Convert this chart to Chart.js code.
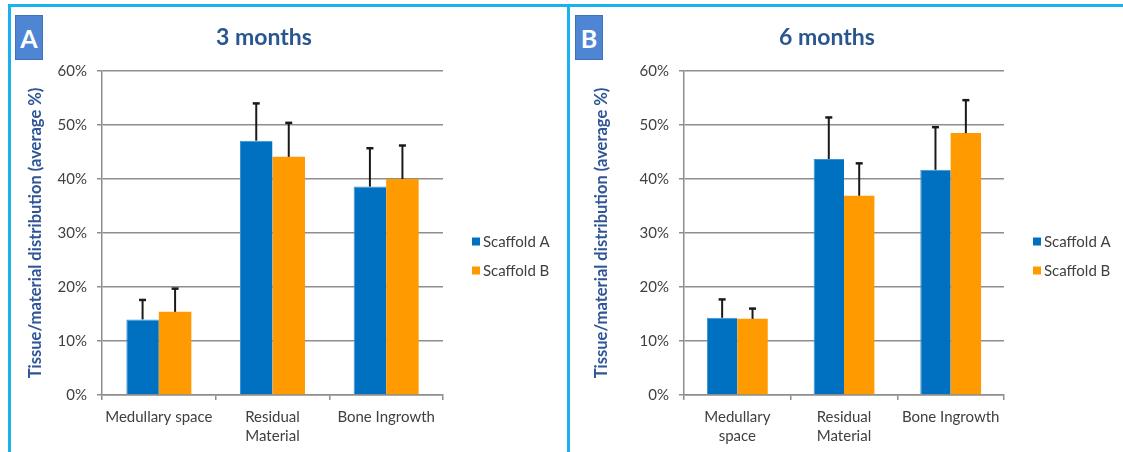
<!DOCTYPE html>
<html>
<head>
<meta charset="utf-8">
<script src="https://cdn.jsdelivr.net/npm/chart.js@4.4.1/dist/chart.umd.min.js"></script>
<style>
    html, body { margin: 0; padding: 0; background: #fff; }
    #wrap { position: relative; width: 1123px; height: 452px; overflow: hidden; font-family: Lato, "Open Sans", sans-serif; }
    canvas { position: absolute; top: 0; }
    .edge { position: absolute; background: #19b2ef; }
    .tag { position: absolute; top: 15px; width: 28px; height: 45px; background: #4f86d3; border: 1px solid #3f72bd; box-sizing: border-box;
           color: #fff; font: bold 25px Lato, sans-serif; text-align: center; line-height: 44px; }
    .title { position: absolute; top: 22px; width: 200px; text-align: center; color: #2a568f; font: bold 23px Lato, sans-serif; }
</style>
</head>
<body>
<div id="wrap">
    <canvas id="chartA" width="567" height="452" style="left:0"></canvas>
    <canvas id="chartB" width="553" height="452" style="left:570px"></canvas>
    <div class="edge" style="left:8px;top:4px;width:3px;height:460px"></div>
    <div class="edge" style="left:8px;top:4px;width:1115px;height:3px"></div>
    <div class="edge" style="left:567px;top:4px;width:3px;height:460px"></div>
    <div class="tag" style="left:15px">A</div>
    <div class="tag" style="left:575px">B</div>
    <div class="title" style="left:164px">3 months</div>
    <div class="title" style="left:727px">6 months</div>
</div>
<script>
"use strict";

// categories (panel B wraps the first label)
var labelsA = ["Medullary space", ["Residual", "Material"], "Bone Ingrowth"];
var labelsB = [["Medullary", "space"], ["Residual", "Material"], "Bone Ingrowth"];
var seriesNames = ["Scaffold A", "Scaffold B"];

// 3 months (average %, upper error)
var month3ScaffoldA = [14.0, 47.1, 38.6];
var month3ScaffoldB = [15.4, 44.1, 40.0];
var month3ErrorA = [3.6, 6.9, 7.1];
var month3ErrorB = [4.3, 6.3, 6.2];

// 6 months
var month6ScaffoldA = [14.3, 43.7, 41.7];
var month6ScaffoldB = [14.1, 36.9, 48.5];
var month6ErrorA = [3.4, 7.7, 7.9];
var month6ErrorB = [1.9, 6.0, 6.1];

var yTicks = [0, 10, 20, 30, 40, 50, 60];

var blue = "#0070c0";
var orange = "#ff9a00";
var gridGray = "#8e8e8e";
var textGray = "#404040";

// only the upper whisker is drawn, like the original figure
var errorBarPlugin = {
    id: "errorBars",
    afterDatasetsDraw: function(chart) {
        var ctx = chart.ctx;
        var yScale = chart.scales.y;
        ctx.save();
        ctx.strokeStyle = "#1a1a1a";
        chart.data.datasets.forEach(function(ds, i) {
            var meta = chart.getDatasetMeta(i);
            meta.data.forEach(function(bar, j) {
                var top = yScale.getPixelForValue(ds.data[j] + ds.errors[j]);
                ctx.lineWidth = 2;
                ctx.beginPath();
                ctx.moveTo(bar.x, bar.y);
                ctx.lineTo(bar.x, top);
                ctx.stroke();
                ctx.lineWidth = 2.5;
                ctx.beginPath();
                ctx.moveTo(bar.x - 3.5, top);
                ctx.lineTo(bar.x + 3.5, top);
                ctx.stroke();
            });
        });
        ctx.restore();
    }
};

// legend sits to the right, a bit below the middle of the plot
var sideLegendPlugin = {
    id: "sideLegend",
    afterDraw: function(chart) {
        var ctx = chart.ctx;
        var area = chart.chartArea;
        ctx.save();
        ctx.font = "15px Lato, sans-serif";
        ctx.textBaseline = "middle";
        chart.data.datasets.forEach(function(ds, i) {
            var x = area.right + 29;
            var y = area.top + 170.5 + i * 29;
            ctx.fillStyle = ds.backgroundColor;
            ctx.fillRect(x, y - 4, 8, 8);
            ctx.fillStyle = textGray;
            ctx.fillText(ds.label, x + 11, y + 1);
        });
        ctx.restore();
    }
};

function makeChart(canvasId, labels, valuesA, valuesB, errorsA, errorsB, pad, axisWidth, groupShare) {
    return new Chart(document.getElementById(canvasId), {
        type: "bar",
        plugins: [errorBarPlugin, sideLegendPlugin],
        data: {
            labels: labels,
            datasets: [
                {
                    label: seriesNames[0],
                    data: valuesA,
                    errors: errorsA,
                    backgroundColor: blue,
                    borderColor: "#3a93d6",
                    borderWidth: { top: 1, left: 1, right: 0, bottom: 0 },
                    categoryPercentage: groupShare,
                    barPercentage: 1
                },
                {
                    label: seriesNames[1],
                    data: valuesB,
                    errors: errorsB,
                    backgroundColor: orange,
                    borderWidth: 0,
                    categoryPercentage: groupShare,
                    barPercentage: 1
                }
            ]
        },
        options: {
            responsive: false,
            animation: false,
            events: [],
            layout: { padding: pad },
            plugins: {
                legend: { display: false },
                tooltip: { enabled: false }
            },
            scales: {
                x: {
                    grid: {
                        drawOnChartArea: false,
                        drawTicks: true,
                        tickLength: 5,
                        color: gridGray,
                        lineWidth: 1.5
                    },
                    border: { color: gridGray, width: 1.5 },
                    ticks: {
                        color: textGray,
                        font: { family: "Lato", size: 15, lineHeight: 1.29 },
                        padding: 7,
                        maxRotation: 0,
                        autoSkip: false
                    },
                    afterFit: function(scale) {
                        scale.height = 57;
                    }
                },
                y: {
                    min: 0,
                    max: 60,
                    afterBuildTicks: function(scale) {
                        scale.ticks = yTicks.map(function(v) { return { value: v }; });
                    },
                    grid: {
                        color: gridGray,
                        lineWidth: 1.5,
                        tickLength: 5
                    },
                    border: { color: gridGray, width: 1.5 },
                    ticks: {
                        color: textGray,
                        font: { family: "Lato", size: 15 },
                        padding: 10,
                        callback: function(v) { return v + "%"; }
                    },
                    title: {
                        display: true,
                        text: "Tissue/material distribution (average %)",
                        color: "#2f5597",
                        font: { family: "Lato", size: 16.5, weight: "bold" },
                        padding: { top: 0, bottom: 0 }
                    },
                    afterFit: function(scale) {
                        scale.width = axisWidth;
                    }
                }
            }
        }
    });
}

makeChart("chartA", labelsA, month3ScaffoldA, month3ScaffoldB, month3ErrorA, month3ErrorB,
    { top: 71, left: 25.5, right: 124, bottom: 0 }, 76.5, 0.572);
makeChart("chartB", labelsB, month6ScaffoldA, month6ScaffoldB, month6ErrorA, month6ErrorB,
    { top: 71, left: 22, right: 119, bottom: 0 }, 92, 0.57);
</script>
</body>
</html>
